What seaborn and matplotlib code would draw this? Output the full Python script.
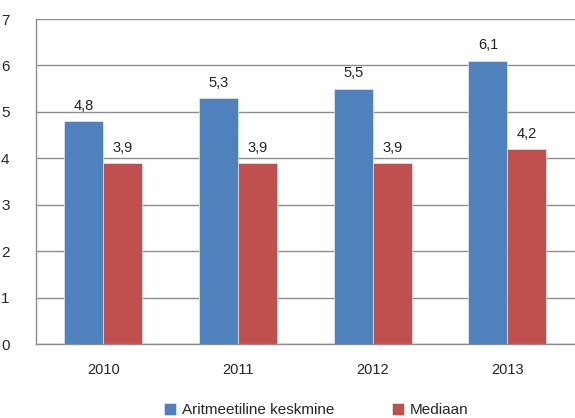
import pandas as pd
import matplotlib.pyplot as plt
import seaborn as sns

# --- Data ---
years = ['2010', '2011', '2012', '2013']
keskmine = [4.8, 5.3, 5.5, 6.1]
mediaan = [3.9, 3.9, 3.9, 4.2]
series_names = ['Aritmeetiline keskmine', 'Mediaan']
colors = ['#4F81BD', '#C0504D']

df = pd.DataFrame({
    'aasta': years * 2,
    'vaartus': keskmine + mediaan,
    'seeria': [series_names[0]] * len(years) + [series_names[1]] * len(years),
})

sns.set_style('white')
plt.rcParams['font.family'] = ['Liberation Sans', 'DejaVu Sans']

fig = plt.figure(figsize=(5.75, 4.18), dpi=100)
ax = fig.add_axes([0.0626, 0.177, 0.937, 0.7775])

sns.barplot(data=df, x='aasta', y='vaartus', hue='seeria', palette=colors,
            saturation=1, width=0.58, ax=ax, legend=True)

for p in ax.patches:
    p.set_edgecolor('#e6ecf5')
    p.set_linewidth(0.5)

# value labels with comma decimals
for cont in ax.containers:
    ax.bar_label(cont, labels=[f'{v:.1f}'.replace('.', ',') for v in cont.datavalues],
                 padding=6, fontsize=10.5, color='#222222')

ax.set_ylim(0, 7)
ax.set_xlim(-0.5, 3.5)
ax.set_yticks(range(0, 8))
ax.yaxis.grid(True, color='#8c8c8c', linewidth=1)
ax.set_axisbelow(True)
ax.set_xlabel('')
ax.set_ylabel('')

# category boundary ticks like Excel
ax.set_xticks([-0.5, 0.5, 1.5, 2.5, 3.5], minor=True)
ax.tick_params(axis='x', which='minor', length=5, color='#8c8c8c', width=1, direction='out')
ax.tick_params(axis='x', which='major', length=0, pad=14, labelsize=10.5)
ax.tick_params(axis='y', length=5, color='#8c8c8c', width=1, direction='out', pad=14, labelsize=11)

for side in ['top', 'right']:
    ax.spines[side].set_visible(False)
for side in ['left', 'bottom']:
    ax.spines[side].set_color('#8c8c8c')
    ax.spines[side].set_linewidth(1)

ax.legend(loc='upper center', bbox_to_anchor=(0.52, -0.14), ncol=2, frameon=False,
          fontsize=11, handlelength=0.8, handleheight=0.8, handletextpad=0.35,
          columnspacing=3.8)

fig.savefig('out.png', dpi=100)
